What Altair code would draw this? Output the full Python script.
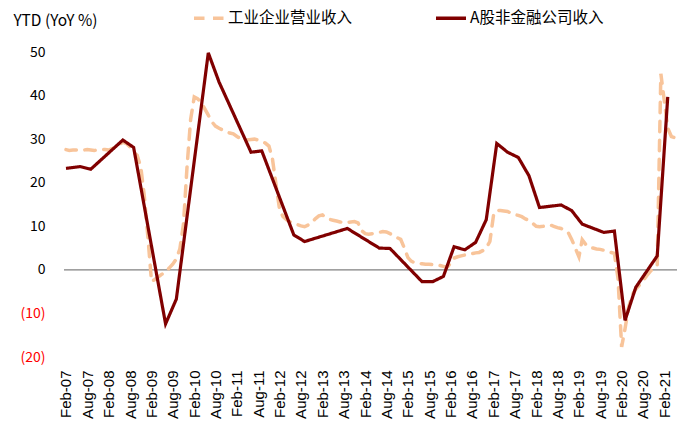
import altair as alt
import pandas as pd

# ---------------- data ----------------
dash_name = "工业企业营业收入"
solid_name = "A股非金融公司收入"

# Industrial enterprises revenue, YTD YoY %, monthly from Feb-07 to May-21
dash_start = "2007-02-01"
dash_values = [
    # 2007 Feb-Dec
    27.6, 27.4, 27.5, 27.5, 27.4, 27.5, 27.6, 27.5, 27.4, 27.5, 27.6,
    # 2008
    27.6, 27.5, 27.8, 28.2, 28.8, 29.3, 29.0, 28.2, 27.0, 26.3, 23.6, 17.0,
    # 2009
    7.5, -2.7, -2.2, -1.6, -1.0, -0.4, 0.4, 1.3, 2.5, 4.8, 10.5, 23.5,
    # 2010
    34.5, 39.7, 39.3, 38.5, 37.0, 35.5, 34.0, 33.0, 32.5, 32.1, 31.7, 31.4,
    # 2011
    31.2, 30.6, 30.2, 29.9, 29.8, 29.9, 30.0, 29.8, 29.5, 29.1, 28.4, 25.5,
    # 2012
    19.5, 13.7, 12.2, 11.5, 11.0, 10.7, 10.4, 10.1, 9.9, 10.3, 10.9, 11.7,
    # 2013
    12.4, 12.6, 12.0, 11.6, 11.4, 11.2, 11.0, 10.8, 10.9, 11.0, 11.1, 10.8,
    # 2014
    9.0, 8.3, 8.2, 8.3, 8.4, 8.6, 8.8, 8.7, 8.3, 7.9, 7.4, 7.0,
    # 2015
    5.0, 2.8, 2.0, 1.6, 1.5, 1.4, 1.3, 1.3, 1.2, 1.1, 1.0, 0.8,
    # 2016
    0.6, 1.5, 2.7, 3.0, 3.2, 3.4, 3.6, 3.7, 3.9, 4.0, 4.4, 5.0,
    # 2017
    6.5, 12.5, 13.7, 13.6, 13.5, 13.4, 13.0, 12.7, 12.5, 12.2, 11.7, 11.3,
    # 2018
    10.7, 10.0, 9.9, 10.0, 10.2, 10.3, 10.0, 9.7, 9.5, 9.1, 8.6, 7.0,
    # 2019
    5.0, 3.0, 6.9, 5.8, 5.2, 5.0, 4.8, 4.7, 4.5, 4.3, 4.0, 3.8,
    # 2020
    -2.0, -17.7, -13.5, -8.5, -5.8, -4.4, -3.5, -2.5, -1.4, -0.4, 0.5, 1.1,
    # 2021 Jan-May
    45.0, 38.5, 32.5, 30.6, 30.3,
]

# A-share non-financial companies revenue, YTD YoY %, reporting dates
solid_dates = [
    "2007-02-01", "2007-06-01", "2007-09-01", "2008-06-01", "2008-09-01",
    "2009-06-01", "2009-09-01", "2010-06-01", "2010-09-01", "2011-06-01",
    "2011-09-01", "2012-06-01", "2012-09-01", "2013-09-01", "2014-06-01",
    "2014-09-01", "2015-06-01", "2015-09-01", "2015-12-01", "2016-03-01",
    "2016-06-01", "2016-09-01", "2016-12-01", "2017-03-01", "2017-06-01",
    "2017-09-01", "2017-12-01", "2018-03-01", "2018-09-01", "2018-12-01",
    "2019-03-01", "2019-09-01", "2019-12-01", "2020-03-01", "2020-06-01",
    "2020-12-01", "2021-03-01",
]
solid_values = [
    23.3, 23.7, 23.1, 29.8, 28.1,
    -12.4, -6.7, 49.8, 43.1, 27.0,
    27.3, 8.0, 6.5, 9.5, 5.0,
    4.9, -2.7, -2.7, -1.5, 5.3,
    4.6, 6.3, 11.5, 29.0, 27.0,
    25.8, 21.6, 14.3, 14.9, 13.6,
    10.5, 8.6, 8.9, -11.6, -4.0,
    3.2, 39.7,
]

zero_line = [0]
y_ticks = [-20, -10, 0, 10, 20, 30, 40, 50]
x_tick_years = list(range(2007, 2022))

# ---------------- tables ----------------
dash_dates = pd.date_range(dash_start, periods=len(dash_values), freq="MS").strftime("%Y-%m-%d")
dash_df = pd.DataFrame({"date": dash_dates, "value": dash_values, "series": dash_name})
solid_df = pd.DataFrame({"date": solid_dates, "value": solid_values, "series": solid_name})
zero_df = pd.DataFrame({"y": zero_line})

x_values = []
for yr in x_tick_years:
    x_values.append(alt.DateTime(year=yr, month=2, date=1, utc=True))
    if yr < 2021:
        x_values.append(alt.DateTime(year=yr, month=8, date=1, utc=True))

x_scale = alt.Scale(
    type="utc",
    domain=[alt.DateTime(year=2007, month=1, date=15, utc=True),
            alt.DateTime(year=2021, month=5, date=19, utc=True)],
)
y_scale = alt.Scale(domain=[-20, 50], nice=False, zero=False)

x_axis = alt.Axis(
    values=x_values, format="%b-%y", labelAngle=270, labelAlign="right",
    labelBaseline="middle", labelPadding=13, ticks=False, domain=False,
    grid=False, title=None, labelFont="Liberation Sans", labelFontSize=15,
    labelColor="#000000", labelOverlap=False,
)
y_axis = alt.Axis(
    values=y_ticks,
    labelExpr="datum.value < 0 ? '(' + abs(datum.value) + ')' : datum.value + '\u00a0'",
    labelColor={"condition": {"test": "datum.value < 0", "value": "#FF0000"}, "value": "#000000"},
    ticks=False, domain=False, grid=False, labelPadding=19,
    labelFont="Noto Sans CJK SC", labelFontSize=14,
    title="YTD (YoY %)", titleAngle=0, titleAlign="left", titleBaseline="alphabetic",
    titleX=-51, titleY=-27, titleFont="Noto Sans CJK SC", titleFontSize=15.5,
    titleFontWeight="normal", titleColor="#000000",
)

legend = alt.Legend(
    title=None, orient="none", legendX=128, legendY=-51, direction="horizontal",
    labelFont="Noto Sans CJK SC", labelFontSize=15.5, labelColor="#000000",
    symbolType="stroke", symbolSize=900, symbolStrokeWidth=3.5,
    columnPadding=76, labelOffset=2, labelLimit=0,
)
color = alt.Color(
    "series:N",
    scale=alt.Scale(domain=[dash_name, solid_name], range=["#F8C49A", "#800000"]),
    legend=legend,
)
dash = alt.StrokeDash(
    "series:N",
    scale=alt.Scale(domain=[dash_name, solid_name], range=[[10.5, 8.5], [1, 0]]),
    legend=legend,
)

zero_rule = alt.Chart(zero_df).mark_rule(color="#808080", strokeWidth=1.2).encode(
    y=alt.Y("y:Q", scale=y_scale, axis=y_axis)
)
dash_line = alt.Chart(dash_df).mark_line(strokeWidth=3.5, strokeCap="round").encode(
    x=alt.X("date:T", scale=x_scale, axis=x_axis),
    y=alt.Y("value:Q", scale=y_scale, axis=y_axis),
    color=color, strokeDash=dash,
)
solid_line = alt.Chart(solid_df).mark_line(strokeWidth=3.2).encode(
    x=alt.X("date:T", scale=x_scale, axis=x_axis),
    y=alt.Y("value:Q", scale=y_scale, axis=y_axis),
    color=color, strokeDash=dash,
)

chart = alt.layer(zero_rule, dash_line, solid_line).properties(
    width=613, height=305,
    autosize=alt.AutoSizeParams(type="none"),
    padding={"left": 64, "top": 52, "right": 9, "bottom": 77},
    background="white",
).configure_view(stroke=None)

chart.save("out.html", embed_options={"renderer": "svg", "actions": False})
